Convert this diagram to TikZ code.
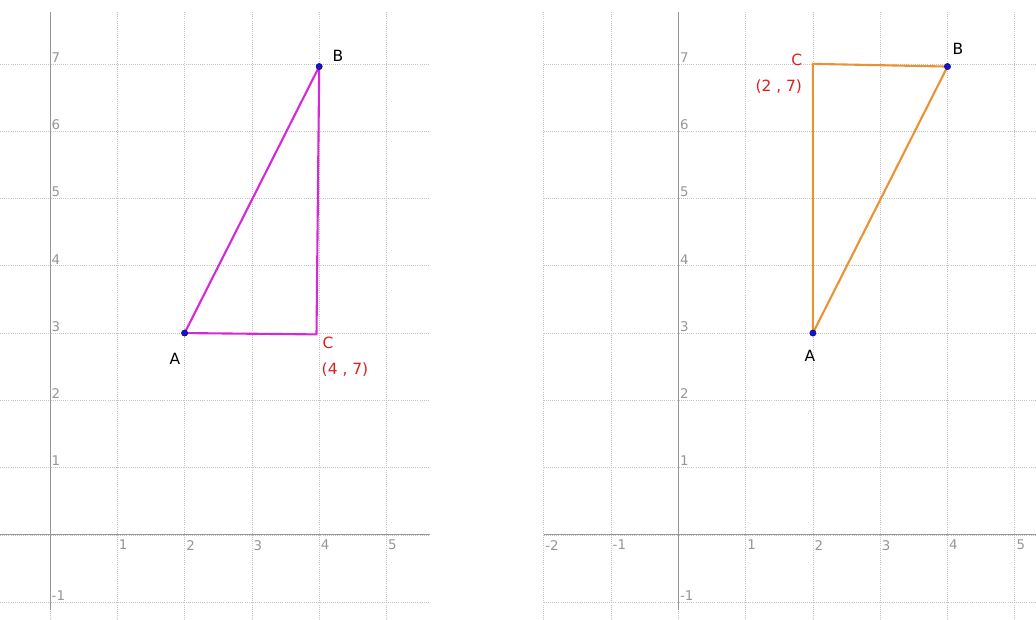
\documentclass[tikz,border=0pt]{standalone}
\usepackage{fontspec}
\setmainfont{DejaVu Sans}
\usetikzlibrary{positioning}

\definecolor{gridgray}{RGB}{195,195,195}
\definecolor{axisgray}{RGB}{150,150,150}
\definecolor{ticklab}{RGB}{150,150,150}
\definecolor{trimag}{RGB}{215,40,215}
\definecolor{triorange}{RGB}{235,145,50}
\definecolor{labred}{RGB}{220,30,30}
\definecolor{ptblue}{RGB}{20,20,210}

\tikzset{
  gridline/.style={gridgray, densely dotted, line width=0.5pt},
  axisline/.style={axisgray, line width=0.7pt},
  ticknum/.style={ticklab, font=\fontsize{9.5}{9.5}\selectfont, inner sep=1pt},
  ptdot/.style={circle, fill=ptblue, draw=black!60!blue, line width=0.3pt, inner sep=0pt, minimum size=4.5pt},
  ptname/.style={font=\fontsize{11}{11}\selectfont, inner sep=1pt},
  triside/.style={line width=1.5pt, line join=round},
}

\begin{document}
\begin{tikzpicture}[x=1.683cm, y=1.683cm]

\useasboundingbox (-0.743,-1.263) rectangle (14.651,7.949);

% left panel
\begin{scope}
  \draw [gridline, step=1] (-0.743,-1.263) grid (5.646,7.771);
  \draw [axisline] (-0.743,0) -- (5.646,0);
  \draw [axisline] (0,-1.114) -- (0,7.771);

  \foreach \i in {1,...,5}
    \node [ticknum, anchor=north west, yshift=-2.5pt] (lx\i) at (\i,0) {\i};
  \foreach \j in {-1,1,2,3,4,5,6,7}
    \node [ticknum, anchor=south west] (ly\j) at (0,\j) {\j};

  \coordinate (lA) at (2,3);
  \coordinate (lB) at (4,6.96);
  \coordinate (lC) at (3.96,2.98);

  \draw [trimag, triside] (lA) -- (lB) -- (lC) -- cycle;

  \node [ptdot] (lAdot) at (lA) {};
  \node [ptdot] (lBdot) at (lB) {};

  \node [ptname] (lAlab) at (1.857,2.615) {A};
  \node [ptname] (lBlab) at (4.279,7.117) {B};
  \node [ptname, labred] (lClab) at (4.131,2.853) {C};
  \node [ptname, labred] (lCxy) at (4.383,2.452) {(4 , 7)};
\end{scope}

% right panel
\begin{scope}[shift={(9.336,0)}]
  \draw [gridline, step=1] (-2,-1.263) grid (5.315,7.771);
  \draw [axisline] (-2,0) -- (5.315,0);
  \draw [axisline] (0,-1.114) -- (0,7.771);

  \foreach \i in {-2,-1,1,2,3,4,5}
    \node [ticknum, anchor=north west, yshift=-2.5pt] (rx\i) at (\i,0) {\i};
  \foreach \j in {-1,1,2,3,4,5,6,7}
    \node [ticknum, anchor=south west] (ry\j) at (0,\j) {\j};

  \coordinate (rA) at (2,3);
  \coordinate (rB) at (4,6.96);
  \coordinate (rC) at (2,7);

  \draw [triorange, triside] (rA) -- (rB) -- (rC) -- cycle;

  \node [ptdot] (rAdot) at (rA) {};
  \node [ptdot] (rBdot) at (rB) {};

  \node [ptname] (rAlab) at (1.957,2.660) {A};
  \node [ptname] (rBlab) at (4.156,7.221) {B};
  \node [ptname, labred] (rClab) at (1.761,7.058) {C};
  \node [ptname, labred] (rCxy) at (1.493,6.657) {(2 , 7)};
\end{scope}

\end{tikzpicture}
\end{document}
